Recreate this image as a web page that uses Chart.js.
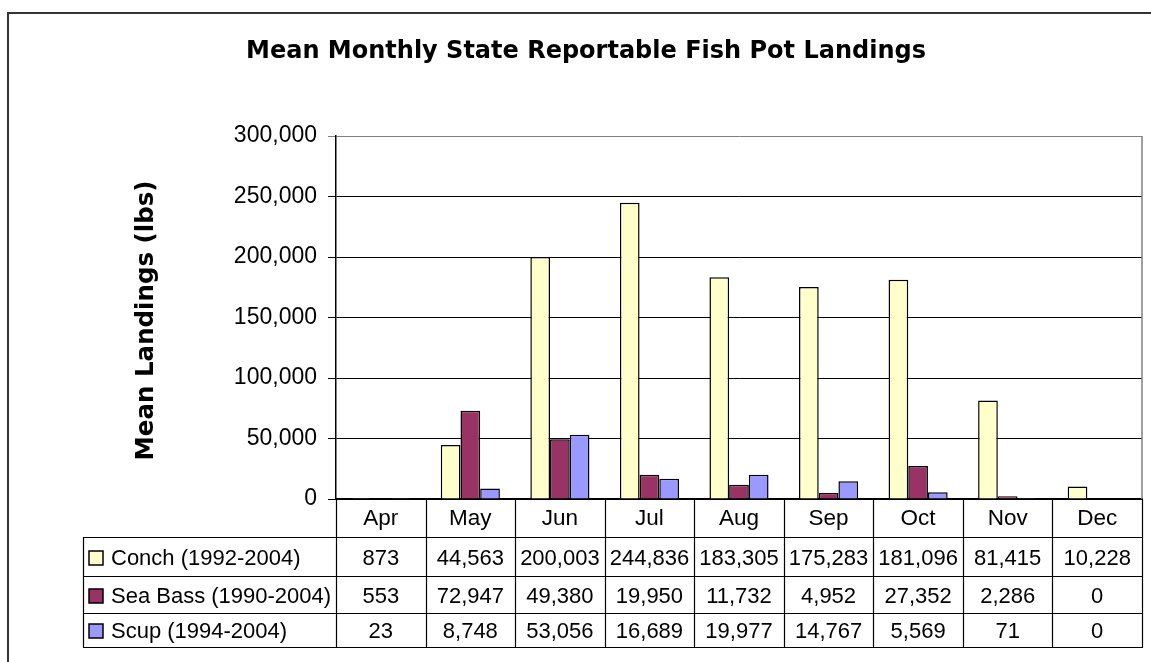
<!DOCTYPE html>
<html><head><meta charset="utf-8">
<script src="https://cdn.jsdelivr.net/npm/chart.js@4.4.1/dist/chart.umd.min.js"></script>
<style>html,body{margin:0;padding:0;background:#fff;}canvas{display:block;}</style>
</head><body>
<canvas id="c" width="1151" height="662"></canvas>
<script>
// ---- data ----
const months = ['Apr','May','Jun','Jul','Aug','Sep','Oct','Nov','Dec'];
const seriesNames = ['Conch (1992-2004)','Sea Bass (1990-2004)','Scup (1994-2004)'];
const conch   = [873, 44563, 200003, 244836, 183305, 175283, 181096, 81415, 10228];
const seaBass = [553, 72947, 49380, 19950, 11732, 4952, 27352, 2286, 0];
const scup    = [23, 8748, 53056, 16689, 19977, 14767, 5569, 71, 0];
const seriesColors = ['#FFFFCC', '#993366', '#9999FF'];
const chartTitle = 'Mean Monthly State Reportable Fish Pot Landings';
const yTitle = 'Mean Landings (lbs)';
const yMin = 0, yMax = 300000, yStep = 50000;

const seriesValues = [conch, seaBass, scup];
const FONT = '"Liberation Sans", Arial, sans-serif';
const BOLDFONT = '"DejaVu Sans", Verdana, sans-serif';
const fmt = v => Number(v).toLocaleString('en-US');

// ---- layout constants (not data) ----
const headerH = 38;
const rowHs = [39, 37, 34];
const tableLeft = 83;

const framePlugin = {
  id: 'frame',
  beforeDraw(chart) {
    const ctx = chart.ctx;
    ctx.save();
    ctx.fillStyle = '#fff';
    ctx.fillRect(0, 0, chart.width, chart.height);
    ctx.strokeStyle = '#333';
    ctx.lineWidth = 2;
    ctx.beginPath();
    ctx.moveTo(8, chart.height + 5);
    ctx.lineTo(8, 13);
    ctx.lineTo(chart.width + 5, 13);
    ctx.stroke();
    ctx.restore();
  }
};

const shiftPlugin = {
  id: 'shiftTitle',
  afterUpdate(chart) {
    const tb = chart.titleBlock;
    if (tb && !tb._wrapped) {
      const orig = tb.draw;
      tb.draw = function() {
        const ctx = chart.ctx;
        ctx.save();
        ctx.translate(15, 0);
        orig.apply(this, arguments);
        ctx.restore();
      };
      tb._wrapped = true;
    }
    const ys = chart.scales.y;
    if (ys && !ys._wrapped) {
      const origT = ys.drawTitle;
      ys.drawTitle = function() {
        const ctx = chart.ctx;
        ctx.save();
        ctx.translate(0, 3);
        origT.apply(this, arguments);
        ctx.restore();
      };
      ys._wrapped = true;
    }
  }
};

const plotBorderPlugin = {
  id: 'plotBorder',
  beforeDatasetsDraw(chart) {
    const {ctx, chartArea: a} = chart;
    ctx.save();
    ctx.strokeStyle = '#808080';
    ctx.lineWidth = 1.5;
    ctx.beginPath();
    ctx.moveTo(a.right, a.top);
    ctx.lineTo(a.right, a.bottom);
    ctx.stroke();
    ctx.restore();
  }
};

const tablePlugin = {
  id: 'dataTable',
  afterDraw(chart) {
    const {ctx, chartArea: a} = chart;
    const x = chart.scales.x;
    const n = months.length;
    const top = a.bottom;
    const headBottom = top + headerH;
    const rowTops = [headBottom];
    rowHs.forEach((h, i) => rowTops.push(rowTops[i] + h));
    const bottom = rowTops[rowTops.length - 1];
    const bounds = [a.left];
    for (let i = 1; i < n; i++) bounds.push((x.getPixelForValue(i - 1) + x.getPixelForValue(i)) / 2);
    bounds.push(a.right);

    ctx.save();
    ctx.strokeStyle = '#000';
    ctx.lineWidth = 1.2;
    ctx.beginPath();
    bounds.forEach(bx => { ctx.moveTo(Math.round(bx) + 0.5, top); ctx.lineTo(Math.round(bx) + 0.5, bottom); });
    ctx.moveTo(tableLeft + 0.5, headBottom); ctx.lineTo(tableLeft + 0.5, bottom);
    rowTops.forEach(ry => { ctx.moveTo(tableLeft, Math.round(ry) + 0.5); ctx.lineTo(a.right + 1, Math.round(ry) + 0.5); });
    ctx.stroke();

    ctx.font = '22px ' + FONT;
    ctx.fillStyle = '#000';
    ctx.textBaseline = 'middle';
    seriesNames.forEach((name, r) => {
      const cy = (rowTops[r] + rowTops[r + 1]) / 2 + 1;
      ctx.fillStyle = seriesColors[r];
      ctx.fillRect(89, Math.round(cy - 7), 14, 14);
      ctx.strokeStyle = '#000';
      ctx.lineWidth = 1.5;
      ctx.strokeRect(89, Math.round(cy - 7), 14, 14);
      ctx.fillStyle = '#000';
      ctx.textAlign = 'left';
      ctx.fillText(name, 111, cy + 1);
      ctx.textAlign = 'center';
      seriesValues[r].forEach((v, c) => {
        ctx.fillText(fmt(v), x.getPixelForValue(c), cy + 1);
      });
    });
    ctx.restore();
  }
};

new Chart(document.getElementById('c'), {
  type: 'bar',
  data: {
    labels: months,
    datasets: seriesNames.map((name, i) => ({
      label: name,
      data: seriesValues[i],
      backgroundColor: seriesColors[i],
      borderColor: '#000',
      borderWidth: 1.5,
      categoryPercentage: 0.66,
      barPercentage: 1.0
    }))
  },
  options: {
    responsive: false,
    devicePixelRatio: 1,
    animation: false,
    layout: { padding: { left: 0, right: 9, top: 0, bottom: 0 } },
    plugins: {
      legend: { display: false },
      tooltip: { enabled: false },
      title: {
        display: true,
        text: chartTitle,
        color: '#000',
        font: { family: BOLDFONT, size: 24, weight: 'bold', lineHeight: 1.2 },
        padding: { top: 37.6, bottom: 69.6 }
      }
    },
    scales: {
      x: {
        grid: { drawOnChartArea: false, drawTicks: false },
        border: { color: '#000', width: 1.5 },
        ticks: { color: '#000', font: { family: FONT, size: 22.5 }, padding: 6, maxRotation: 0, autoSkip: false },
        afterFit(s) { s.height = 662 - 499; }
      },
      y: {
        min: yMin, max: yMax,
        ticks: { stepSize: yStep, color: '#000', font: { family: FONT, size: 23 }, padding: 11, callback: v => fmt(v) },
        grid: {
          color: ctx => (ctx.tick && ctx.tick.value === yMax) ? '#808080' : '#000',
          lineWidth: 1,
          tickLength: 8,
          drawTicks: true
        },
        border: { color: '#000', width: 1.5 },
        title: {
          display: true, text: yTitle, color: '#000',
          font: { family: BOLDFONT, size: 24.5, weight: 'bold', lineHeight: 1.2 },
          padding: { top: 132.3, bottom: 0 }
        },
        afterFit(s) { s.width = 336; }
      }
    }
  },
  plugins: [framePlugin, shiftPlugin, plotBorderPlugin, tablePlugin]
});
</script>
</body></html>
